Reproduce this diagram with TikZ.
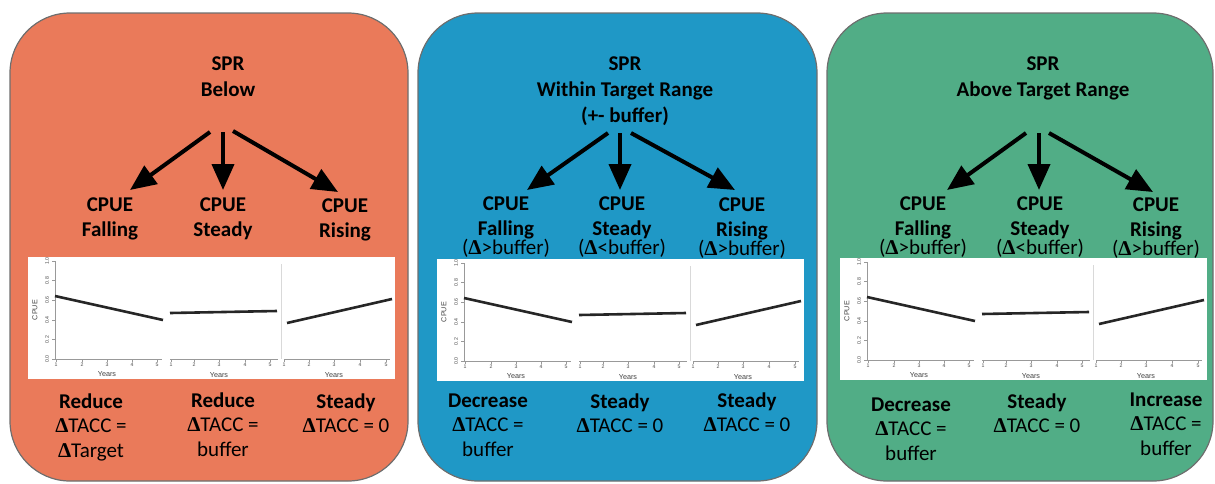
\documentclass[tikz,border=0pt]{standalone}
\usepackage{fontspec}
\setmainfont{Carlito}
\newfontfamily\dfont{Liberation Serif}
\newfontfamily\arialf{Liberation Sans}
\usetikzlibrary{arrows.meta}
\definecolor{panO}{RGB}{234,122,90}
\definecolor{panB}{RGB}{31,152,198}
\definecolor{panG}{RGB}{81,173,134}
\definecolor{edgegray}{RGB}{110,110,110}
\newcommand\dlt{{\dfont\bfseries Δ}}
\tikzset{
 firstbase/.style={anchor=north, yshift=7pt, inner sep=0pt, align=center,
   execute at begin node={\rule{0pt}{9pt}}},
 panel/.style={draw=edgegray, line width=0.6pt, rounded corners=30pt},
 hdr/.style={firstbase, font=\fontsize{10.5}{13.2}\selectfont\bfseries},
 lbl/.style={firstbase, font=\fontsize{10.5}{12.5}\selectfont\bfseries},
 res/.style={firstbase, font=\fontsize{10.5}{12.4}\selectfont},
 arr/.style={line width=2pt, -{Triangle[length=13pt,width=11pt]}},
 axis/.style={draw=gray!80, line width=0.3pt},
 sepline/.style={draw=gray!30, line width=0.3pt},
 tick/.style={font=\arialf\fontsize{2.6}{3}\selectfont, text=gray!60!black, inner sep=0pt},
 ylab/.style={font=\arialf\fontsize{3.6}{4}\selectfont, text=gray!50!black, inner sep=0pt},
 trend/.style={line width=1.3pt, draw=black!85},
 chart/.pic={
  \fill[white] (0,0) rectangle (367,122);
  \draw[axis] (27,4) -- (27,102);
  \draw[axis] (27,102) -- (134,102);
  \draw[axis] (142,102) -- (250,102);
  \draw[axis] (256,102) -- (362,102);
  \draw[sepline] (253,7) -- (253,102);
  \foreach \k/\v/\yy in {0/0.0/102,1/0.2/82.4,2/0.4/62.8,3/0.6/43.2,4/0.8/23.6,5/1.0/4}{
    \draw[axis] (24,\yy) -- (27,\yy);
    \node[tick,rotate=90] (-y\k) at (19,\yy) {\v};
  }
  \node[ylab,rotate=90] (-cpue) at (7,53) {CPUE};
  \foreach \s/\xa/\xb/\xc/\xd/\xe in {a/28/54/79/104/129, b/143/166/191/217/242, c/256/281/306/332/358}{
    \foreach \n/\xx in {1/\xa,2/\xb,3/\xc,4/\xd,5/\xe}{
      \draw[axis] (\xx,102) -- (\xx,104.5);
      \node[tick] (-\s\n) at (\xx,108) {\n};
    }
  }
  \node[ylab] (-ya) at (79,117) {Years};
  \node[ylab] (-yb) at (191,118) {Years};
  \node[ylab] (-yc) at (306,118) {Years};
  \draw[trend] (27,39) -- (135,63);
  \draw[trend] (142,56) -- (249,54);
  \draw[trend] (259,66) -- (364,42);
 }
}
\begin{document}
\begin{tikzpicture}[x=0.5pt,y=-0.5pt]
\useasboundingbox (0,0) rectangle (1215,483);
% panels
\draw[panel, fill=panO] (10,13) rectangle (408,481);
\draw[panel, fill=panB] (418,13) rectangle (817,481);
\draw[panel, fill=panG] (827,13) rectangle (1213,481);

% charts
\pic (chO) at (28,257) {chart};
\pic (chB) at (437,259) {chart};
\pic (chG) at (840,258) {chart};

% ---------- orange ----------
\node[hdr] (hdrO) at (228,70) {SPR\\Below};
\node[lbl] (oF) at (110,211) {CPUE\\Falling};
\node[lbl] (oS) at (223,211) {CPUE\\Steady};
\node[lbl] (oR) at (345,212) {CPUE\\Rising};
\coordinate (oA1) at (210,132); \coordinate (oE1) at (130,190);
\coordinate (oA2) at (223,132); \coordinate (oE2) at (223,190);
\coordinate (oA3) at (233,131); \coordinate (oE3) at (338,192);
\draw[arr] (oA1) -- (oE1);
\draw[arr] (oA2) -- (oE2);
\draw[arr] (oA3) -- (oE3);
\node[res] (oB1) at (91,407) {\textbf{Reduce}\\\dlt TACC =\\\dlt Target};
\node[res] (oB2) at (223,406) {\textbf{Reduce}\\\dlt TACC =\\buffer};
\node[res] (oB3) at (346,407) {\textbf{Steady}\\\dlt TACC = 0};

% ---------- blue ----------
\node[hdr] (hdrB) at (625,70) {SPR\\Within Target Range\\(+- buffer)};
\node[lbl] (bF) at (506,210) {CPUE\\Falling\\[-3pt]{\mdseries(\dlt>buffer)}};
\node[lbl] (bS) at (622,210) {CPUE\\Steady\\[-3pt]{\mdseries(\dlt<buffer)}};
\node[lbl] (bR) at (742,211) {CPUE\\Rising\\[-3pt]{\mdseries(\dlt>buffer)}};
\coordinate (bA1) at (608,133); \coordinate (bE1) at (527,190);
\coordinate (bA2) at (620,133); \coordinate (bE2) at (620,190);
\coordinate (bA3) at (631,133); \coordinate (bE3) at (735,190);
\draw[arr] (bA1) -- (bE1);
\draw[arr] (bA2) -- (bE2);
\draw[arr] (bA3) -- (bE3);
\node[res] (bB1) at (488,407) {\textbf{Decrease}\\\dlt TACC =\\buffer};
\node[res] (bB2) at (620,407) {\textbf{Steady}\\\dlt TACC = 0};
\node[res] (bB3) at (747,406) {\textbf{Steady}\\\dlt TACC = 0};

% ---------- green ----------
\node[hdr] (hdrG) at (1043,70) {SPR\\Above Target Range};
\node[lbl] (gF) at (923,210) {CPUE\\Falling\\[-3pt]{\mdseries(\dlt>buffer)}};
\node[lbl] (gS) at (1040,210) {CPUE\\Steady\\[-3pt]{\mdseries(\dlt<buffer)}};
\node[lbl] (gR) at (1156,211) {CPUE\\Rising\\[-3pt]{\mdseries(\dlt>buffer)}};
\coordinate (gA1) at (1026,133); \coordinate (gE1) at (947,190);
\coordinate (gA2) at (1039,133); \coordinate (gE2) at (1039,190);
\coordinate (gA3) at (1049,133); \coordinate (gE3) at (1153,192);
\draw[arr] (gA1) -- (gE1);
\draw[arr] (gA2) -- (gE2);
\draw[arr] (gA3) -- (gE3);
\node[res] (gB1) at (911,411) {\textbf{Decrease}\\\dlt TACC =\\buffer};
\node[res] (gB2) at (1037,407) {\textbf{Steady}\\\dlt TACC = 0};
\node[res] (gB3) at (1166,406) {\textbf{Increase}\\\dlt TACC =\\buffer};
\end{tikzpicture}
\end{document}
